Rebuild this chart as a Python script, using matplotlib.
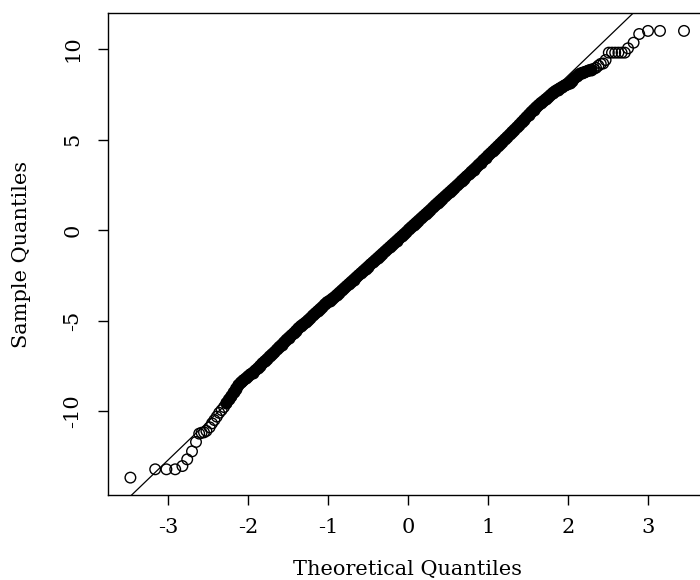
import matplotlib
matplotlib.use("Agg")
import matplotlib.pyplot as plt
import numpy as np

# normal Q-Q plot (R qqnorm + qqline look)
plt.rcParams['font.family'] = ['DejaVu Serif']

# theoretical quantiles (x) and sample quantiles (y)
theo_q = [
    -3.47, -3.16, -3.02, -2.91, -2.82, -2.76, -2.70, -2.65, -2.61, -2.58,
    -2.55, -2.52, -2.48, -2.45, -2.42, -2.39,
    -2.36, -2.33, -2.30, -2.27, -2.24, -2.21, -2.18, -2.15, -2.12, -2.09,
    -2.06, -2.03, -2.00, -1.97, -1.94, -1.91, -1.88, -1.85, -1.82, -1.79,
    -1.76, -1.73, -1.70, -1.67, -1.64, -1.61, -1.58, -1.55, -1.52, -1.49,
    -1.46, -1.43, -1.40, -1.37, -1.34, -1.31, -1.28, -1.25, -1.22, -1.19,
    -1.16, -1.13, -1.10, -1.07, -1.04, -1.01, -0.98, -0.95, -0.92, -0.89,
    -0.86, -0.83, -0.80, -0.77, -0.74, -0.71, -0.68, -0.65, -0.62, -0.59,
    -0.56, -0.53, -0.50, -0.47, -0.44, -0.41, -0.38, -0.35, -0.32, -0.29,
    -0.26, -0.23, -0.20, -0.17, -0.14, -0.11, -0.08, -0.05, -0.02, 0.01,
    0.04, 0.07, 0.10, 0.13, 0.16, 0.19, 0.22, 0.25, 0.28, 0.31,
    0.34, 0.37, 0.40, 0.43, 0.46, 0.49, 0.52, 0.55, 0.58, 0.61,
    0.64, 0.67, 0.70, 0.73, 0.76, 0.79, 0.82, 0.85, 0.88, 0.91,
    0.94, 0.97, 1.00, 1.03, 1.06, 1.09, 1.12, 1.15, 1.18, 1.21,
    1.24, 1.27, 1.30, 1.33, 1.36, 1.39, 1.42, 1.45, 1.48, 1.51,
    1.54, 1.57, 1.60, 1.63, 1.66, 1.69, 1.72, 1.75, 1.78, 1.81,
    1.84, 1.87, 1.90, 1.93, 1.96, 1.99, 2.02, 2.05, 2.08, 2.11,
    2.14, 2.17, 2.20, 2.23, 2.26, 2.29, 2.32, 2.35, 2.38, 2.41,
    2.44, 2.47, 2.51, 2.55, 2.59, 2.63, 2.67, 2.71, 2.75, 2.82,
    2.89, 3.00, 3.15, 3.45,
]
sample_q = [
    -13.68, -13.22, -13.22, -13.22, -13.04, -12.67, -12.23, -11.71, -11.25, -11.20,
    -11.18, -11.10, -10.90, -10.68, -10.50, -10.31,
    -10.10, -9.95, -9.78, -9.55, -9.36, -9.18, -8.97, -8.76, -8.56, -8.42,
    -8.30, -8.20, -8.08, -7.97, -7.88, -7.76, -7.64, -7.50, -7.36, -7.24,
    -7.12, -6.98, -6.86, -6.74, -6.60, -6.46, -6.34, -6.20, -6.06, -5.94,
    -5.82, -5.70, -5.56, -5.42, -5.30, -5.20, -5.10, -4.98, -4.86, -4.72,
    -4.60, -4.48, -4.36, -4.24, -4.10, -3.98, -3.90, -3.80, -3.70, -3.58,
    -3.46, -3.34, -3.22, -3.10, -2.98, -2.86, -2.74, -2.62, -2.50, -2.38,
    -2.26, -2.14, -2.02, -1.90, -1.78, -1.66, -1.54, -1.42, -1.30, -1.18,
    -1.06, -0.94, -0.82, -0.70, -0.58, -0.46, -0.34, -0.22, -0.10, 0.04,
    0.16, 0.28, 0.40, 0.52, 0.64, 0.76, 0.88, 1.00, 1.12, 1.25,
    1.38, 1.50, 1.62, 1.74, 1.86, 1.98, 2.10, 2.22, 2.34, 2.46,
    2.58, 2.72, 2.84, 2.96, 3.08, 3.22, 3.34, 3.46, 3.60, 3.72,
    3.86, 3.98, 4.12, 4.24, 4.37, 4.50, 4.63, 4.76, 4.89, 5.02,
    5.15, 5.28, 5.42, 5.55, 5.68, 5.82, 5.96, 6.10, 6.24, 6.38,
    6.52, 6.65, 6.78, 6.90, 7.02, 7.12, 7.23, 7.34, 7.46, 7.58,
    7.68, 7.76, 7.84, 7.92, 8.00, 8.06, 8.14, 8.26, 8.38, 8.50,
    8.62, 8.68, 8.72, 8.76, 8.82, 8.86, 8.90, 8.96, 9.08, 9.18,
    9.20, 9.39, 9.80, 9.80, 9.80, 9.80, 9.80, 9.80, 10.04, 10.35,
    10.83, 11.00, 11.00, 11.00,
]

# reference line (qqline)
line_slope = 4.247
line_icpt = 0.03

x_ticks = [-3, -2, -1, 0, 1, 2, 3]
y_ticks = [-10, -5, 0, 5, 10]

theo_q = np.array(theo_q)
sample_q = np.array(sample_q)

fig = plt.figure(figsize=(7, 5.8), dpi=100)
# right edge of the box runs past the figure, as in the original
ax = fig.add_axes([108 / 700, 1 - 495 / 580, 600 / 700, 482 / 580])

ax.scatter(theo_q, sample_q, s=58, facecolors='none', edgecolors='black',
           linewidths=1.0, zorder=3)
# the middle of the cloud is so dense the circles merge into a solid band
core = (theo_q > -2.30) & (theo_q < 2.30)
ax.scatter(theo_q[core], sample_q[core], s=58, facecolors='black',
           edgecolors='black', linewidths=1.0, zorder=3)

ax.axline((0, line_icpt), slope=line_slope, color='black', lw=0.9, zorder=2)

ax.set_xlim(-3.75, 3.75)
ax.set_ylim(-14.64, 11.99)
ax.set_xticks(x_ticks)
ax.set_yticks(y_ticks)
ax.set_xticklabels([str(t) for t in x_ticks])
ax.set_yticklabels([str(t) for t in y_ticks], rotation=90, va='center')
ax.tick_params(length=7.5, width=1, labelsize=15, color='black')
ax.tick_params(axis='x', pad=9)
ax.tick_params(axis='y', pad=11)
for sp in ax.spines.values():
    sp.set_linewidth(1.0)

ax.set_xlabel("Theoretical Quantiles", fontsize=15)
ax.set_ylabel("Sample Quantiles", fontsize=15)
ax.xaxis.set_label_coords(0.5, (495 - 560) / 482)
ax.yaxis.set_label_coords((31 - 108) / 600, 0.5)

fig.savefig("out.png", dpi=100)
